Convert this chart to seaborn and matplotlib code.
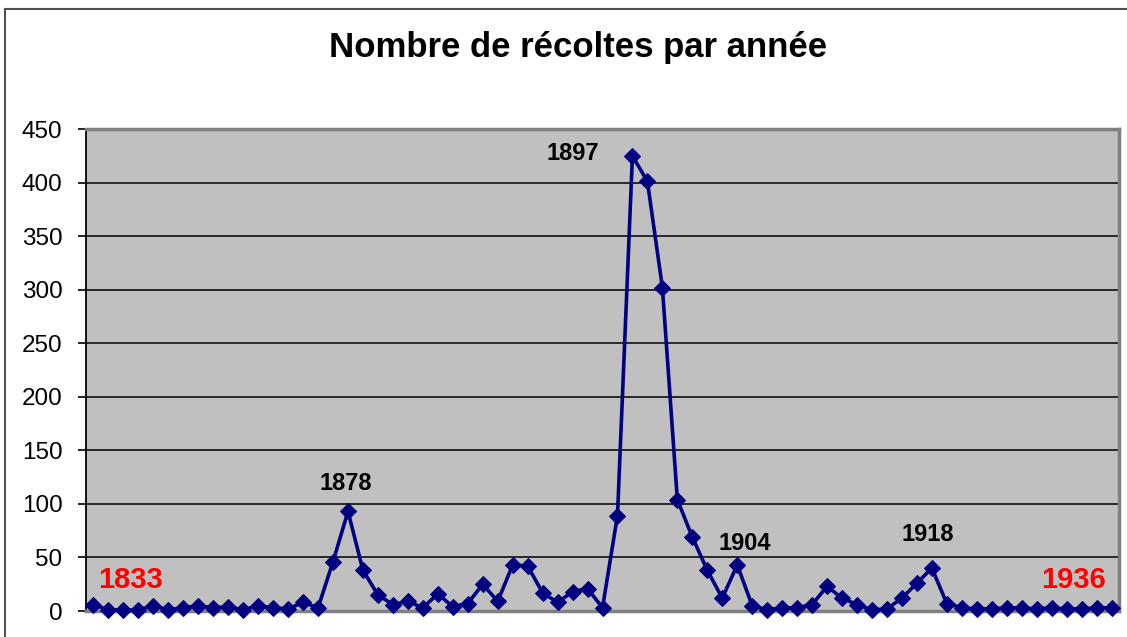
import matplotlib
matplotlib.use("Agg")
import matplotlib.pyplot as plt
import pandas as pd
import seaborn as sns
from matplotlib.patches import Rectangle

# harvest counts, one point per recorded year (1833 ... 1936)
counts = [
    6, 1, 1, 1, 5, 1, 3, 5, 3, 4, 1, 5, 3, 2, 8, 3, 46, 93, 38, 15,
    6, 9, 3, 16, 4, 7, 25, 9, 43, 42, 17, 8, 18, 21, 3, 89,
    425, 401, 302, 104, 69, 38, 12, 43,
    5, 1, 3, 3, 6, 23, 12, 6, 1, 2, 12, 26, 40,
    7, 3, 2, 2, 3, 3, 2, 3, 2, 2, 3, 3,
]
# peak labels: point index -> year
peak_labels = {17: "1878", 36: "1897", 43: "1904", 56: "1918"}
first_year = "1833"
last_year = "1936"
yticks = list(range(0, 451, 50))

df = pd.DataFrame({"pos": range(len(counts)), "count": counts})

sns.set_style("white")
plt.rcParams["font.family"] = ["Liberation Sans", "DejaVu Sans"]
plt.rcParams["text.color"] = "black"
plt.rcParams["ytick.labelcolor"] = "black"

fig = plt.figure(figsize=(11.27, 6.37), dpi=100)
ax = fig.add_axes([86 / 1127, 1 - 611 / 637, (1119 - 86) / 1127, (611 - 129) / 637])
ax.set_facecolor("#C0C0C0")

# outer chart border (cropped on right/bottom like the source)
fig.patches.append(Rectangle((5 / 1127, -0.1), 1.2, 1 - 9 / 637 + 0.1,
                             transform=fig.transFigure, fill=False,
                             edgecolor="#505050", linewidth=1.5))

for y in yticks[1:-1]:
    ax.axhline(y, color="black", linewidth=1.1, zorder=1)

sns.lineplot(data=df, x="pos", y="count", ax=ax, color="#000080",
             linewidth=2.6, marker="D", markersize=8.5,
             markeredgecolor="#000080", clip_on=False, zorder=3)

ax.set_xlim(-0.5, len(counts) - 0.5)
ax.set_ylim(0, 450)
ax.set_yticks(yticks)
ax.set_xticks([])
ax.set_xlabel("")
ax.set_ylabel("")
ax.tick_params(axis="y", left=True, length=6, width=1.2, color="black",
               labelcolor="black", labelsize=17.5, pad=11)

for side in ["top", "right", "bottom"]:
    ax.spines[side].set_color("#808080")
    ax.spines[side].set_linewidth(2.5)
ax.spines["left"].set_color("black")
ax.spines["left"].set_linewidth(1.3)

# peak annotations (offsets in pixels from the point)
offsets = {17: (-2, 21), 36: (-60, -4), 43: (8, 15), 56: (-4, 27)}
for i, txt in peak_labels.items():
    ax.annotate(txt, (i, counts[i]), xytext=offsets[i], textcoords="offset pixels",
                ha="center", va="baseline", fontsize=17, fontweight="bold",
                color="black", zorder=4)

ax.annotate(first_year, (0, counts[0]), xytext=(37, 17), textcoords="offset pixels",
            ha="center", va="baseline", fontsize=21, fontweight="bold", color="red")
ax.annotate(last_year, (len(counts) - 1, counts[-1]), xytext=(-38, 20),
            textcoords="offset pixels", ha="center", va="baseline",
            fontsize=21, fontweight="bold", color="red")

fig.text(578 / 1127, 1 - 57 / 637, "Nombre de récoltes par année",
         ha="center", va="baseline", fontsize=25, fontweight="bold", color="black")

fig.savefig("out.png", dpi=100)
